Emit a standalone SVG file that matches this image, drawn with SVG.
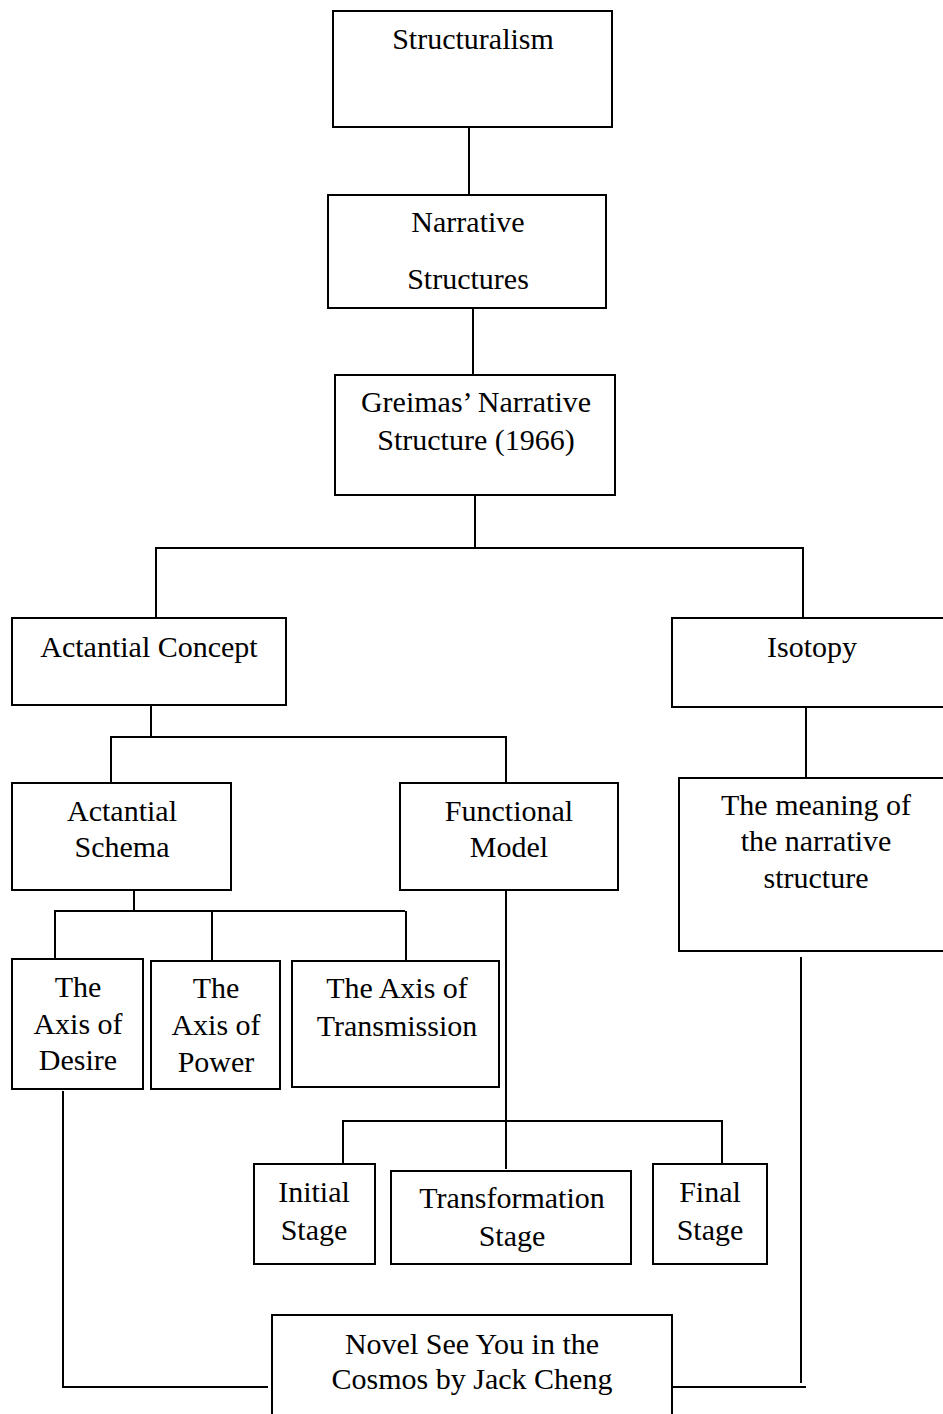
<svg xmlns="http://www.w3.org/2000/svg" width="943" height="1414" viewBox="0 0 943 1414">
<style>
.box{fill:#fff;stroke:#000;stroke-width:2}
.ln{fill:none;stroke:#000;stroke-width:2}
text{font-family:'Liberation Serif','DejaVu Serif',serif;font-size:30px;fill:#000;text-anchor:middle}
</style>
<rect width="943" height="1414" fill="#fff"/>
<g id="connectors">
<path class="ln" d="M469 128V195"/>
<path class="ln" d="M473 308V379"/>
<path class="ln" d="M475 495V548M156 618V548H803V618"/>
<path class="ln" d="M151 705V737M111 783V737H506V783"/>
<path class="ln" d="M806 707V778"/>
<path class="ln" d="M134 890V911M55 959V911H405M212 911V961M406 911V961"/>
<path class="ln" d="M506 890V1169M343 1164V1121H722V1164"/>
<path class="ln" d="M63 1091V1387H268"/>
<path class="ln" d="M801 957V1383M670 1387H806"/>
</g>
<g id="structuralism"><rect class="box" x="333" y="11" width="279" height="116"/><text x="473" y="49">Structuralism</text></g>
<g id="narrative-structures"><rect class="box" x="328" y="195" width="278" height="113"/><text x="468" y="232">Narrative</text><text x="468" y="289">Structures</text></g>
<g id="greimas"><rect class="box" x="335" y="375" width="280" height="120"/><text x="476" y="412">Greimas’ Narrative</text><text x="476" y="450">Structure (1966)</text></g>
<g id="actantial-concept"><rect class="box" x="12" y="618" width="274" height="87"/><text x="149" y="657">Actantial Concept</text></g>
<g id="isotopy"><rect class="box" x="672" y="618" width="280" height="89"/><text x="812" y="657">Isotopy</text></g>
<g id="actantial-schema"><rect class="box" x="12" y="783" width="219" height="107"/><text x="122" y="821">Actantial</text><text x="122" y="857">Schema</text></g>
<g id="functional-model"><rect class="box" x="400" y="783" width="218" height="107"/><text x="509" y="821">Functional</text><text x="509" y="857">Model</text></g>
<g id="meaning"><rect class="box" x="679" y="778" width="280" height="173"/><text x="816" y="815">The meaning of</text><text x="816" y="851">the narrative</text><text x="816" y="888">structure</text></g>
<g id="axis-desire"><rect class="box" x="12" y="959" width="131" height="130"/><text x="78" y="997">The</text><text x="78" y="1034">Axis of</text><text x="78" y="1070">Desire</text></g>
<g id="axis-power"><rect class="box" x="151" y="961" width="129" height="128"/><text x="216" y="998">The</text><text x="216" y="1035">Axis of</text><text x="216" y="1072">Power</text></g>
<g id="axis-transmission"><rect class="box" x="292" y="961" width="207" height="126"/><text x="397" y="998">The Axis of</text><text x="397" y="1036">Transmission</text></g>
<g id="initial-stage"><rect class="box" x="254" y="1164" width="121" height="100"/><text x="314" y="1202">Initial</text><text x="314" y="1240">Stage</text></g>
<g id="transformation-stage"><rect class="box" x="391" y="1171" width="240" height="93"/><text x="512" y="1208">Transformation</text><text x="512" y="1246">Stage</text></g>
<g id="final-stage"><rect class="box" x="653" y="1164" width="114" height="100"/><text x="710" y="1202">Final</text><text x="710" y="1240">Stage</text></g>
<g id="novel"><rect class="box" x="272" y="1315" width="400" height="110"/><text x="472" y="1354">Novel See You in the</text><text x="472" y="1389">Cosmos by Jack Cheng</text></g>
</svg>
